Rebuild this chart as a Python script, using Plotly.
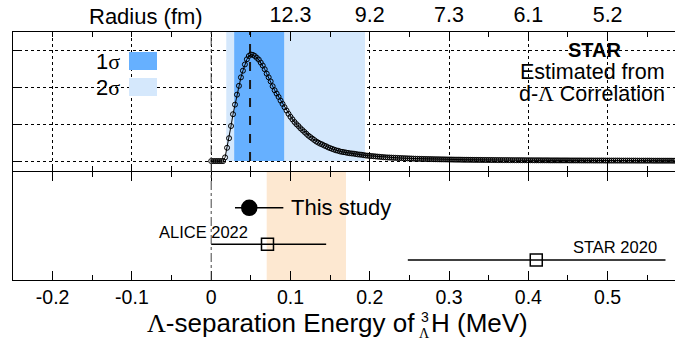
import plotly.graph_objects as go

# ---------------- data ----------------
prob = [0, 0, 0, 0, 0, 0, 0, 0.10, 0.36, 0.62,
        0.95, 1.27, 1.53, 1.80, 2.04, 2.27, 2.45, 2.62, 2.76, 2.85,
        2.89, 2.88, 2.85, 2.80, 2.75, 2.67, 2.59, 2.49, 2.37, 2.27,
        2.16, 2.03, 1.92, 1.83, 1.74, 1.64, 1.55, 1.46, 1.37, 1.28,
        1.20, 1.13, 1.06, 1.00, 0.95, 0.89, 0.84, 0.79, 0.74, 0.69,
        0.65, 0.61, 0.57, 0.53, 0.50, 0.47, 0.45, 0.42, 0.40, 0.37,
        0.35, 0.33, 0.31, 0.29, 0.28, 0.26, 0.25, 0.24, 0.23, 0.22,
        0.21, 0.205, 0.20, 0.19, 0.18, 0.175, 0.17, 0.16, 0.15, 0.145,
        0.14, 0.135, 0.13, 0.125, 0.12, 0.115, 0.11, 0.105, 0.10, 0.097,
        0.095, 0.092, 0.09, 0.087, 0.085, 0.082, 0.08, 0.077, 0.075, 0.072,
        0.070, 0.068, 0.066, 0.064, 0.062, 0.060, 0.059, 0.057, 0.056, 0.054,
        0.053, 0.052, 0.050, 0.049, 0.048, 0.047, 0.046, 0.045, 0.044, 0.043,
        0.042, 0.041, 0.040, 0.039, 0.038, 0.038, 0.037, 0.036, 0.035, 0.035,
        0.034, 0.034, 0.033, 0.032, 0.032, 0.031, 0.031, 0.030, 0.030, 0.029,
        0.029, 0.028, 0.028, 0.027, 0.027, 0.026, 0.026, 0.025, 0.025, 0.025,
        0.025, 0.024, 0.024, 0.023, 0.023, 0.023, 0.023, 0.022, 0.022, 0.021,
        0.021, 0.021, 0.021, 0.020, 0.020, 0.020, 0.020, 0.019, 0.019, 0.019,
        0.019, 0.018, 0.018, 0.018, 0.018, 0.018, 0.017, 0.017, 0.017, 0.017,
        0.017, 0.016, 0.016, 0.016, 0.016, 0.016, 0.016, 0.015, 0.015, 0.015,
        0.015, 0.015, 0.015, 0.014, 0.014, 0.014, 0.014, 0.014, 0.014, 0.013,
        0.013, 0.013, 0.013, 0.013, 0.013, 0.013, 0.013, 0.012, 0.012, 0.012,
        0.012, 0.012, 0.012, 0.012, 0.012, 0.011, 0.011, 0.011, 0.011, 0.011,
        0.011, 0.011, 0.011, 0.010, 0.010, 0.010, 0.010, 0.010, 0.010, 0.010,
        0.010, 0.010, 0.010, 0.009, 0.009]
energy_step = 0.0025
energy = [round(energy_step * i, 4) for i in range(len(prob))]

best_value = 0.049
band_1sigma = [0.029, 0.092]
band_2sigma = [0.019, 0.194]

meas_names = ["This study", "ALICE 2022", "STAR 2020"]
meas_value = [0.048, 0.071, 0.410]
meas_err_lo = [0.018, 0.071, 0.162]
meas_err_hi = [0.043, 0.074, 0.163]
meas_row = [0.668, 0.332, 0.185]
band_orange = [0.070, 0.170]

radius_pos = [-0.2, -0.1, 0.0, 0.1, 0.2, 0.3, 0.4, 0.5]
radius_text = ["", "", "", "12.3", "9.2", "7.3", "6.1", "5.2"]
energy_ticks = [-0.2, -0.1, 0.0, 0.1, 0.2, 0.3, 0.4, 0.5]
energy_text = ["-0.2", "-0.1", "0", "0.1", "0.2", "0.3", "0.4", "0.5"]

# ---------------- layout helpers ----------------
W, H = 675, 340
L, R, T, B = 13, 0, 32, 60
def px(xp):
    return (xp - L) / (W - L - R)
def py(yp):
    return (H - B - yp) / (H - T - B)

top_bottom_edge = py(171)
bottom_top_edge = py(172)
SANS = "Liberation Sans, Arial, sans-serif"
def serif(s):
    return '<span style="font-family:%s">%s</span>' % ("Liberation Serif", s)

minor_vals = [round(-0.25 + 0.05 * i, 3) for i in range(18)]

fig = go.Figure()

# curve (top panel)
fig.add_trace(go.Scatter(
    x=energy, y=prob, xaxis="x2", yaxis="y", mode="lines+markers",
    line=dict(color="black", width=1),
    marker=dict(symbol="circle-open", size=5, color="black", line=dict(width=1)),
    showlegend=False, hoverinfo="skip"))

# measurements (bottom panel)
symbols = ["circle", "square-open", "square-open"]
sizes = [15, 12, 12]
for i in range(3):
    fig.add_trace(go.Scatter(
        x=[meas_value[i]], y=[meas_row[i]], xaxis="x", yaxis="y2", mode="markers",
        marker=dict(symbol=symbols[i], size=sizes[i], color="black", line=dict(width=1.5, color="black")),
        error_x=dict(type="data", symmetric=False, array=[meas_err_hi[i]],
                     arrayminus=[meas_err_lo[i]], color="black", thickness=1.5, width=0),
        showlegend=False, hoverinfo="skip"))

shapes = []
shapes.append(dict(type="rect", xref="x2", yref="y", x0=band_2sigma[0], x1=band_2sigma[1],
                   y0=0, y1=3.5, fillcolor="#D5E8FC", line=dict(width=0), layer="between"))
shapes.append(dict(type="rect", xref="x2", yref="y", x0=band_1sigma[0], x1=band_1sigma[1],
                   y0=0, y1=3.5, fillcolor="#66B0FF", line=dict(width=0), layer="between"))
shapes.append(dict(type="line", xref="x2", yref="y", x0=best_value, x1=best_value,
                   y0=0, y1=3.5, line=dict(color="#1a1a1a", width=2, dash="dash"), layer="between"))
shapes.append(dict(type="rect", xref="x", yref="y2 domain", x0=band_orange[0], x1=band_orange[1],
                   y0=0, y1=1, fillcolor="#FDE8D1", line=dict(width=0), layer="below"))
shapes.append(dict(type="line", xref="x", yref="paper", x0=0, x1=0, y0=0, y1=1,
                   line=dict(color="#444444", width=1, dash="dashdot"), layer="above"))
shapes.append(dict(type="rect", xref="paper", yref="paper", x0=px(129), x1=px(157),
                   y0=py(70), y1=py(52), fillcolor="#66B0FF", line=dict(width=0)))
shapes.append(dict(type="rect", xref="paper", yref="paper", x0=px(129), x1=px(157),
                   y0=py(96), y1=py(78), fillcolor="#D5E8FC", line=dict(width=0)))

ann = []
def A(text, x, y, size, xanchor="center", yanchor="middle", xref="paper", yref="paper"):
    ann.append(dict(text=text, x=x, y=y, xref=xref, yref=yref, showarrow=False,
                    xanchor=xanchor, yanchor=yanchor, borderpad=0,
                    font=dict(size=size, color="black", family=SANS)))

A("1" + serif("σ"), px(121), py(61), 22, xanchor="right")
A("2" + serif("σ"), px(121), py(87), 22, xanchor="right")
A("<b>STAR</b>", px(595), py(50), 20)
A("Estimated from", px(592), py(72), 21.5)
A("d-" + serif("Λ") + " Correlation", px(592), py(94), 21.5)
A("Radius (fm)", px(146), py(16), 22)

A(meas_names[0], 0.0995, 0.668, 22, xanchor="left", xref="x", yref="y2")
A(meas_names[1], 0.048, 0.446, 16.5, xanchor="right", xref="x", yref="y2")
A(meas_names[2], 0.564, 0.307, 16.5, xanchor="right", xref="x", yref="y2")

# x title pieces (stacked ^3 over _Lambda)
A(serif("Λ") + "-separation Energy of", px(416), py(323), 26, xanchor="right")
A("3", px(424.5), py(317), 14)
A(serif("Λ"), px(424.5), py(333), 14)
A("H (MeV)", px(430), py(323), 26, xanchor="left")

axis_common = dict(range=[-0.25, 0.585], showline=True, linecolor="black", linewidth=1,
                   ticks="inside", ticklen=9, tickwidth=1, tickcolor="black",
                   mirror="allticks", zeroline=False)

fig.update_layout(
    width=W, height=H, margin=dict(l=L, r=R, t=T, b=B, pad=0),
    paper_bgcolor="white", plot_bgcolor="white",
    font=dict(family=SANS, color="black"),
    shapes=shapes, annotations=ann, showlegend=False,
    xaxis=dict(**axis_common, anchor="y2", domain=[0, 1],
               tickmode="array", tickvals=energy_ticks, ticktext=energy_text,
               tickfont=dict(size=19.5), showgrid=False,
               minor=dict(ticks="inside", ticklen=5, tickcolor="black",
                          tickmode="array", tickvals=minor_vals, showgrid=False)),
    xaxis2=dict(**axis_common, anchor="y", side="top", matches="x",
                tickmode="array", tickvals=radius_pos, ticktext=radius_text,
                tickfont=dict(size=21.5), showgrid=True, gridcolor="black",
                griddash="dot", gridwidth=1,
                minor=dict(ticks="inside", ticklen=5, tickcolor="black",
                           tickmode="array", tickvals=minor_vals, showgrid=False)),
    yaxis=dict(domain=[top_bottom_edge, 1], range=[-0.27, 3.5], tickmode="array", tickvals=[0, 1, 2, 3],
               showticklabels=False, ticks="inside", ticklen=7, tickcolor="black",
               showgrid=True, gridcolor="black", griddash="dot", gridwidth=1,
               showline=True, linecolor="black", zeroline=False),
    yaxis2=dict(domain=[0, bottom_top_edge], range=[0, 1], showticklabels=False, ticks="",
                showgrid=False, showline=True, linecolor="black", zeroline=False),
)

fig.write_html("out.html")
